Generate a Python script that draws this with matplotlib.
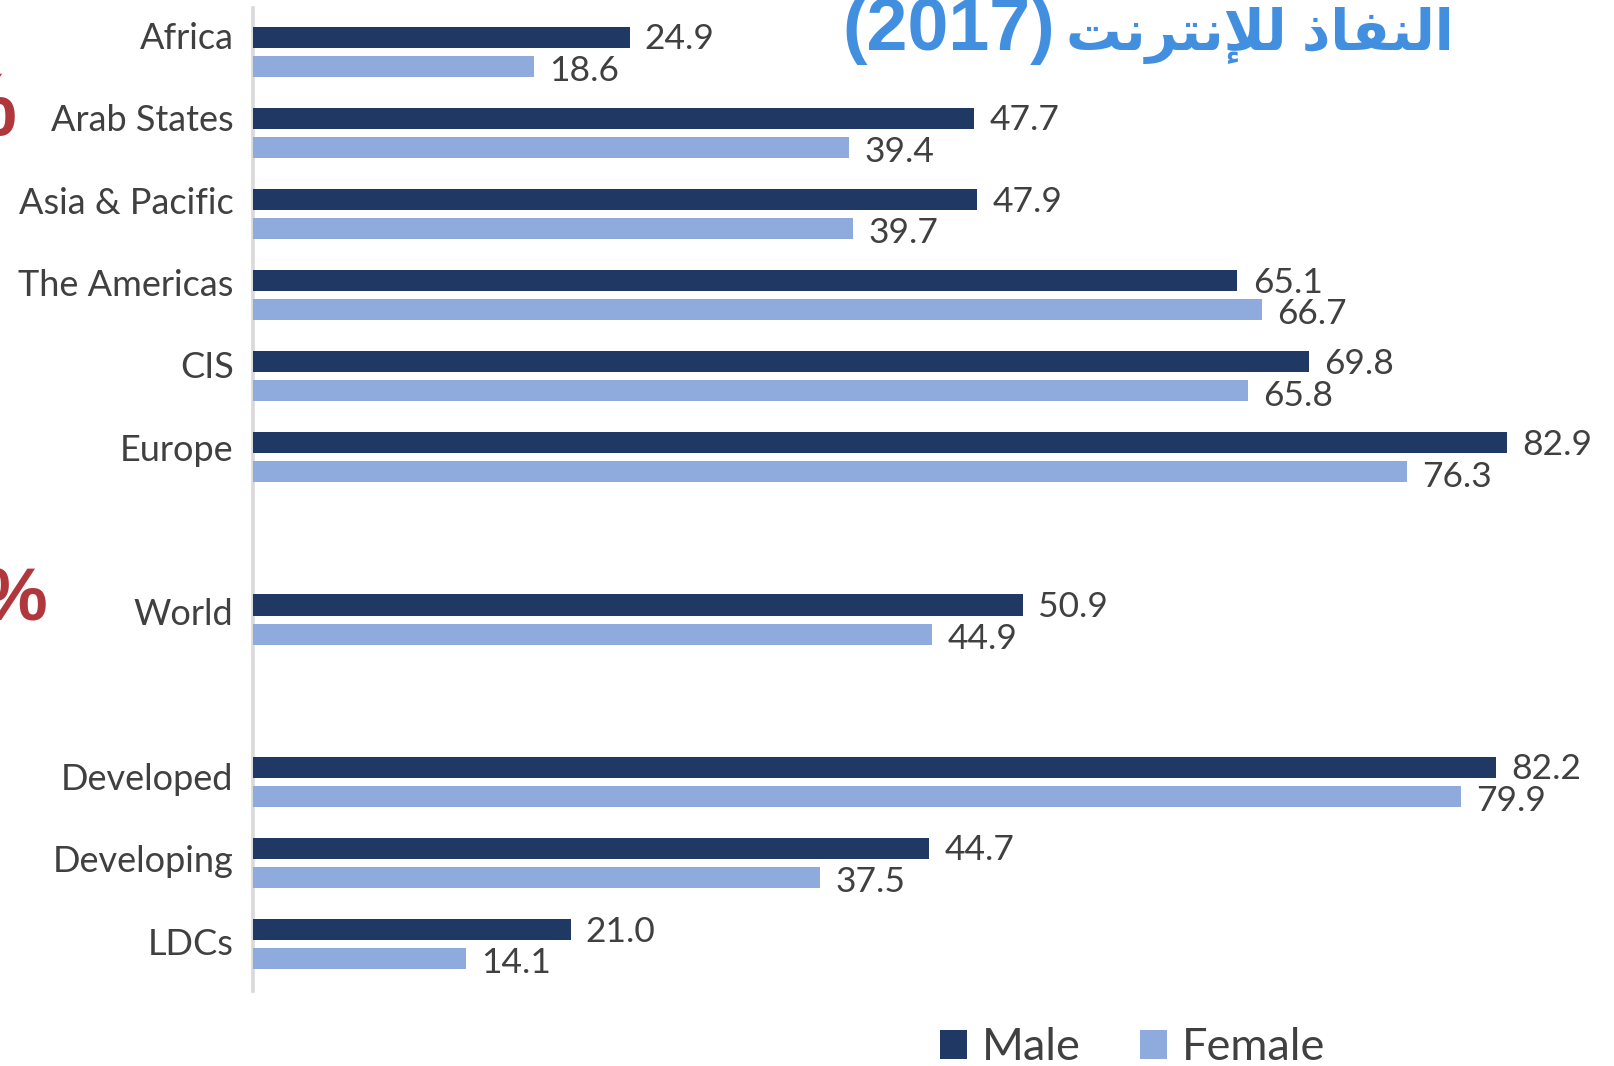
import matplotlib
matplotlib.use("Agg")
import matplotlib.pyplot as plt
from matplotlib.patches import Patch
import numpy as np

categories = ["Africa", "Arab States", "Asia & Pacific", "The Americas", "CIS", "Europe",
              "World", "Developed", "Developing", "LDCs"]
slots = [0, 1, 2, 3, 4, 5, 7, 9, 10, 11]
male = [24.9, 47.7, 47.9, 65.1, 69.8, 82.9, 50.9, 82.2, 44.7, 21.0]
female = [18.6, 39.4, 39.7, 66.7, 65.8, 76.3, 44.9, 79.9, 37.5, 14.1]
series_names = ["Male", "Female"]
# Arabic title in visual (presentation-form) order: "النفاذ للإنترنت"
title_ar = ("\uFE96\uFEE7\uFEAE\uFE98\uFEE7\uFEFA\uFEDF" + " " +
            "\uFEAB\uFE8E\uFED4\uFEE8\uFEDF\uFE8D")
title_year = "(2017)"

MALE_C = "#1F3864"
FEMALE_C = "#8FAADC"
TXT = "#404040"
FONT = ["Lato", "DejaVu Sans"]
TFONT = ["Liberation Sans", "DejaVu Sans"]

W, H = 1614, 1066
fig = plt.figure(figsize=(W / 100, H / 100), dpi=100)
ax = fig.add_axes([253 / W, (H - 991) / H, 1 - 253 / W, (991 - 8) / H])

pos = np.array(slots, dtype=float)
bh = 0.26
off = 0.179
ax.barh(pos - off, male, height=bh, color=MALE_C, zorder=3)
ax.barh(pos + off, female, height=bh, color=FEMALE_C, zorder=3)

for p, m, f in zip(pos, male, female):
    ax.annotate(f"{m:.1f}", (m, p - off), xytext=(11, -1.5), textcoords="offset points",
                va="center", ha="left", fontsize=25.5, color=TXT, family=FONT)
    ax.annotate(f"{f:.1f}", (f, p + off), xytext=(11, -3.5), textcoords="offset points",
                va="center", ha="left", fontsize=25.5, color=TXT, family=FONT)

ax.set_xlim(0, 90)
ax.set_ylim(11.58, -0.54)
ax.set_yticks(pos * 1.015 - 0.2)
ax.set_yticklabels(categories, fontsize=26, color=TXT, family=FONT)
ax.tick_params(axis="y", length=0, pad=14)
ax.set_xticks([])
for s in ["top", "right", "bottom"]:
    ax.spines[s].set_visible(False)
ax.spines["left"].set_color("#D9D9D9")
ax.spines["left"].set_linewidth(2.6)

# Title (cropped at the top in the reference)
fig.text(842 / W, (H - 50) / H, title_year, ha="left", va="baseline",
         fontsize=53, fontweight="bold", color="#428FE0", family=TFONT)
fig.text(1066 / W, (H - 50) / H, title_ar, ha="left", va="baseline",
         fontsize=40, fontweight="bold", color="#428FE0", family=TFONT)

# cropped red fragments on left edge
fig.text(17 / W, (H - 135) / H, "%", ha="right", va="baseline", fontsize=64,
         fontweight="bold", color="#B0383D", family=TFONT)
fig.text(47 / W, (H - 620) / H, "%", ha="right", va="baseline", fontsize=54,
         fontweight="bold", color="#B0383D", family=TFONT)

handles = [Patch(facecolor=MALE_C), Patch(facecolor=FEMALE_C)]
fig.legend(handles, series_names, loc="center left", bbox_to_anchor=(940 / W, 18 / H),
           ncol=2, frameon=False, borderpad=0, borderaxespad=0,
           handlelength=0.6, handleheight=0.6, handletextpad=0.33, columnspacing=1.3,
           prop={"family": FONT, "size": 32.5}, labelcolor=TXT)

fig.savefig("out.png", dpi=100)
